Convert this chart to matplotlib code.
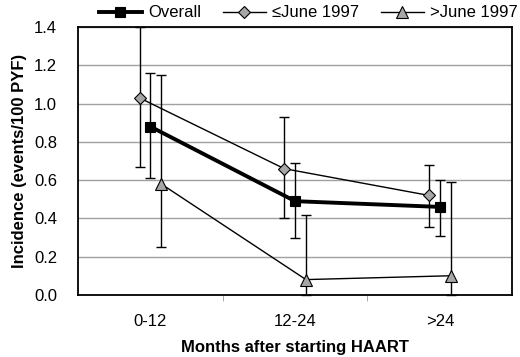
import numpy as np
import matplotlib
matplotlib.use('Agg')
import matplotlib.pyplot as plt

plt.rcParams['font.family'] = ['Liberation Sans', 'DejaVu Sans']

categories = ['0-12', '12-24', '>24']

overall = [0.88, 0.49, 0.46]
overall_lo = [0.61, 0.30, 0.31]
overall_hi = [1.16, 0.69, 0.60]

early = [1.03, 0.66, 0.52]
early_lo = [0.67, 0.40, 0.355]
early_hi = [1.40, 0.93, 0.68]

late = [0.58, 0.08, 0.10]
late_lo = [0.25, 0.0, 0.0]
late_hi = [1.15, 0.42, 0.59]

fig = plt.figure(figsize=(5.2, 3.57), dpi=100)
ax = fig.add_axes([0.15, 0.174, 0.835, 0.75])

x = np.arange(len(categories))
off = 0.075


def draw(xs, y, lo, hi, lw, marker, face, size, label):
    y = np.array(y)
    yerr = [y - np.array(lo), np.array(hi) - y]
    ax.errorbar(xs, y, yerr=yerr, fmt='none', ecolor='black', elinewidth=1,
                capsize=3.8, capthick=1, zorder=3, clip_on=False)
    ax.plot(xs, y, color='black', lw=lw, marker=marker, markerfacecolor=face,
            markeredgecolor='black', markersize=size, markeredgewidth=0.8,
            label=label, zorder=4)


draw(x, overall, overall_lo, overall_hi, 2.8, 's', 'black', 7, 'Overall')
draw(x - off, early, early_lo, early_hi, 1.0, 'D', '#a6a6a6', 6, '≤June 1997')
draw(x + off, late, late_lo, late_hi, 1.0, '^', '#a6a6a6', 8, '>June 1997')

ax.set_xlim(-0.5, 2.5)
ax.set_ylim(0, 1.4)
ax.set_yticks(np.arange(0, 1.41, 0.2))
ax.set_yticklabels([f'{v:.1f}' for v in np.arange(0, 1.41, 0.2)])
ax.set_xticks(x)
ax.set_xticklabels(categories)
ax.set_xticks([0.5, 1.5], minor=True)
ax.tick_params(axis='x', which='major', length=0, pad=14, labelsize=12)
ax.tick_params(axis='x', which='minor', length=4, color='#999999', direction='out')
ax.tick_params(axis='y', length=0, labelsize=12, pad=15)
ax.yaxis.grid(True, color='#a0a0a0', lw=1)
ax.set_axisbelow(True)
for s in ax.spines.values():
    s.set_linewidth(1.3)

ax.set_xlabel('Months after starting HAART', fontsize=12, fontweight='bold', labelpad=8)
ax.set_ylabel('Incidence (events/100 PYF)', fontsize=12, fontweight='bold', labelpad=5)

ax.legend(loc='lower center', bbox_to_anchor=(0.53, 1.025), ncol=3, frameon=False,
          fontsize=12, handlelength=2.6, columnspacing=1.3, handletextpad=0.35,
          borderaxespad=0, borderpad=0)

fig.savefig('out.png', dpi=100)
